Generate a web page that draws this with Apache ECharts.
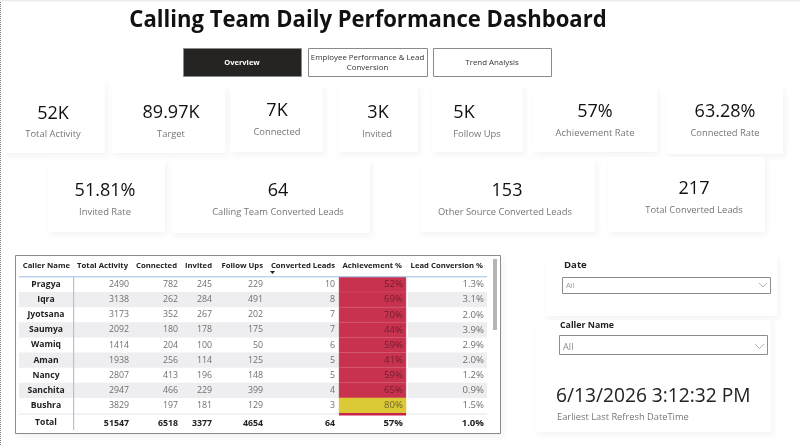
<!DOCTYPE html>
<html>
<head>
<meta charset="utf-8">
<title>Calling Team Daily Performance Dashboard</title>
<script src="https://cdn.jsdelivr.net/npm/echarts@6/dist/echarts.min.js"></script>
<style>
html, body { margin: 0; padding: 0; background: #fff; }
#myChart { width: 800px; height: 445px; }
</style>
</head>
<body>
<div id="myChart"></div>
<script>
var titleText = 'Calling Team Daily Performance Dashboard';
var navLabels = ['Overview', 'Employee Performance & Lead\nConversion', 'Trend Analysis'];

var kpiValues = ['52K', '89.97K', '7K', '3K', '5K', '57%', '63.28%', '51.81%', '64', '153', '217'];
var kpiLabels = ['Total Activity', 'Target', 'Connected', 'Invited', 'Follow Ups', 'Achievement Rate', 'Connected Rate',
    'Invited Rate', 'Calling Team Converted Leads', 'Other Source Converted Leads', 'Total Converted Leads'];

var tableHeaders = ['Caller Name', 'Total Activity', 'Connected', 'Invited', 'Follow Ups', 'Converted Leads', 'Achievement %', 'Lead Conversion %'];
var callers = ['Pragya', 'Iqra', 'Jyotsana', 'Saumya', 'Wamiq', 'Aman', 'Nancy', 'Sanchita', 'Bushra'];
var totalActivity = [2490, 3138, 3173, 2092, 1414, 1938, 2807, 2947, 3829];
var connected = [782, 262, 352, 180, 204, 256, 413, 466, 197];
var invited = [245, 284, 267, 178, 100, 114, 196, 229, 181];
var followUps = [229, 491, 202, 175, 50, 125, 148, 399, 129];
var convertedLeads = [10, 8, 7, 7, 6, 5, 5, 4, 3];
var achievement = [52, 69, 70, 44, 59, 41, 59, 65, 80];
var leadConversion = [1.3, 3.1, 2.0, 3.9, 2.9, 2.0, 1.2, 0.9, 1.5];
var totalRow = ['Total', '51547', '6518', '3377', '4654', '64', '57%', '1.0%'];

var dateSlicerTitle = 'Date';
var callerSlicerTitle = 'Caller Name';
var slicerValue = 'All';
var refreshValue = '6/13/2026 3:12:32 PM';
var refreshLabel = 'Earliest Last Refresh DateTime';

var FONT = '"Open Sans", "Noto Sans", sans-serif';

// 卡片位置: x, y, w, h, 数值中心x, 数值y, 标签中心x, 标签y
var kpiBoxes = [
    [4, 82, 101, 71, 53, 114, 53, 134],
    [112, 85, 113, 68, 171, 113, 171, 134],
    [230, 85, 93, 67, 277, 111, 277, 132],
    [338, 85, 80, 67, 378, 113, 377, 134],
    [432, 85, 91, 67, 464, 113, 477, 134],
    [533, 88, 124, 64, 595, 112, 595, 133],
    [667, 85, 116, 69, 725, 112, 725, 133],
    [48, 160, 117, 72, 105, 191, 105, 212],
    [172, 160, 198, 73, 278, 191, 278, 212],
    [420, 160, 175, 72, 507, 191, 505, 212],
    [608, 157, 157, 75, 694, 189, 694, 210]
];
var navBoxes = [[183, 48, 118, 28], [308, 48, 119, 28], [433, 48, 118, 28]];
// 每列右边缘
var colRight = [0, 129, 178, 212, 263, 335, 403, 484];
var headerRight = [70, 128, 177, 212, 263, 335, 402, 483];

function text(x, y, str, size, color, align, weight, z) {
    return {
        type: 'text', x: x, y: y, z: z || 5, silent: true,
        style: {
            text: str, fontSize: size, fill: color, align: align || 'left', verticalAlign: 'middle',
            fontWeight: weight || 'normal', fontFamily: FONT, lineHeight: size + 2.5
        }
    };
}
function rect(x, y, w, h, fill, stroke, lineWidth, z, shadow) {
    var s = { fill: fill, stroke: stroke || null, lineWidth: lineWidth || 0 };
    if (shadow) {
        s.shadowBlur = 6;
        s.shadowColor = 'rgba(40,30,60,0.055)';
        s.shadowOffsetX = 2;
        s.shadowOffsetY = 3;
    }
    return { type: 'rect', z: z || 1, silent: true, shape: { x: x, y: y, width: w, height: h }, style: s };
}
function line(x1, y1, x2, y2, color, w, z, dash) {
    return {
        type: 'line', z: z || 3, silent: true, shape: { x1: x1, y1: y1, x2: x2, y2: y2 },
        style: { stroke: color, lineWidth: w || 1, lineDash: dash || null }
    };
}
function chevron(x, y, w, h) {
    return {
        type: 'polyline', z: 5, silent: true,
        shape: { points: [[x, y], [x + w / 2, y + h], [x + w, y]] },
        style: { stroke: '#a0a0a0', lineWidth: 0.8, fill: null }
    };
}

var elements = [];

// 页面边缘
elements.push(line(0.5, 0, 0.5, 445, '#777', 1, 6, [1, 1]));
elements.push(rect(0, 0, 800, 1.5, '#ececec', null, 0, 6));

var titleEl = text(368, 20, titleText, 24, '#111', 'center', 'bold');
titleEl.scaleX = 0.92;
elements.push(titleEl);

// 导航按钮
for (var n = 0; n < navLabels.length; n++) {
    var b = navBoxes[n];
    var active = n === 0;
    elements.push(rect(b[0] + 0.5, b[1] + 0.5, b[2], b[3], active ? '#252423' : '#fff', '#8a8a8a', 1, 2));
    elements.push(text(b[0] + b[2] / 2, b[1] + b[3] / 2 + 1, navLabels[n], active ? 7.5 : 7.9, active ? '#fff' : '#333', 'center', active ? 'bold' : 'normal'));
}

// KPI 卡片
for (var k = 0; k < kpiValues.length; k++) {
    var c = kpiBoxes[k];
    elements.push(rect(c[0], c[1], c[2], c[3], '#fff', null, 0, 1, true));
    elements.push(text(c[4], c[5], kpiValues[k], 18, '#111', 'center'));
    elements.push(text(c[6], c[7], kpiLabels[k], 9.4, '#777', 'center'));
}

// 表格外框与表头
elements.push(rect(15.5, 255.5, 485, 178, '#fff', '#8c8c8c', 1, 1, true));
for (var h = 0; h < tableHeaders.length; h++) {
    elements.push(text(headerRight[h], 265.5, tableHeaders[h], 7.7, '#222', 'right', 'bold'));
    elements.push(text(h === 0 ? 46 : colRight[h], 423, totalRow[h], h === 0 ? 8.6 : h >= 6 ? 9.6 : 8.8, '#222', h === 0 ? 'center' : 'right', 'bold'));
}
elements.push({
    type: 'polygon', z: 5, silent: true,
    shape: { points: [[270, 271], [275, 271], [272.5, 274]] }, style: { fill: '#222' }
});
elements.push(line(19, 276.8, 487, 276.8, '#9dbde6', 1, 4));
elements.push(rect(73, 277, 1.2, 153, '#a9c4ea', null, 0, 4));
elements.push(rect(339, 413, 67, 2.5, '#c8234a', null, 0, 3));
elements.push(rect(19, 413, 320, 2, '#f2f2f4', null, 0, 2));
elements.push(rect(406, 413, 81, 2, '#f2f2f4', null, 0, 2));
elements.push(rect(493, 259, 4, 71, '#b5b5b5', null, 0, 4));

// 切片器
elements.push(rect(545, 256, 232, 60, '#fff', null, 0, 1, true));
elements.push(rect(535, 320, 236, 112, '#fff', null, 0, 1, true));
elements.push(text(564, 265, dateSlicerTitle, 9.6, '#222', 'left', 'bold'));
elements.push(rect(562.5, 277.5, 208, 16, '#fff', '#8c8c8c', 1, 3));
elements.push(text(566, 286, slicerValue, 7.6, '#9a9a9a'));
elements.push(chevron(759, 283, 8, 4));
elements.push(text(560, 325.5, callerSlicerTitle, 8.8, '#222', 'left', 'bold'));
elements.push(rect(559.5, 335.5, 208, 19, '#fff', '#8c8c8c', 1, 3));
elements.push(text(563, 347, slicerValue, 9.2, '#8a8a8a'));
elements.push(chevron(755, 344, 9, 4.5));
elements.push(text(556, 397, refreshValue, 19.2, '#222'));
elements.push(text(557, 417, refreshLabel, 9.3, '#777'));

// 表格主体: 每行一个数据项
var rowData = [];
for (var r = 0; r < callers.length; r++) {
    rowData.push([callers[r], totalActivity[r], connected[r], invited[r], followUps[r], convertedLeads[r], achievement[r], leadConversion[r]]);
}

function renderRow(params, api) {
    var i = params.dataIndex;
    var row = rowData[i];
    var yc = api.coord([0, i])[1];
    var bh = api.size([0, 1])[1];
    var top = yc - bh / 2;
    var xs = function (v) { return api.coord([v, i])[0]; };
    var children = [];
    if (i % 2 === 1) {
        children.push({ type: 'rect', shape: { x: xs(19), y: top, width: xs(339) - xs(19), height: bh }, style: { fill: '#eeeef0' } });
        children.push({ type: 'rect', shape: { x: xs(408), y: top, width: xs(487) - xs(408), height: bh }, style: { fill: '#eeeef0' } });
    }
    // 达成率: 低于 80% 红色, 否则黄色
    children.push({
        type: 'rect',
        shape: { x: xs(339), y: top, width: xs(406) - xs(339), height: bh },
        style: { fill: row[6] < 80 ? '#c9324f' : '#dcc936', stroke: row[6] < 80 ? '#d2596f' : '#dcc936', lineWidth: 0.4 }
    });
    children.push({
        type: 'text', x: xs(46), y: yc,
        style: { text: row[0], fontSize: 8.6, fontWeight: 'bold', fontFamily: FONT, fill: '#222', align: 'center', verticalAlign: 'middle' }
    });
    for (var j = 1; j < row.length; j++) {
        var str = j === 6 ? row[j] + '%' : j === 7 ? row[j].toFixed(1) + '%' : String(row[j]);
        children.push({
            type: 'text', x: xs(colRight[j]), y: yc,
            style: {
                text: str, fontSize: j >= 6 ? 9.6 : 8.8, fontFamily: FONT, align: 'right', verticalAlign: 'middle',
                fill: j === 6 ? (row[j] < 80 ? '#6f2033' : '#6d6330') : '#707070'
            }
        });
    }
    return { type: 'group', children: children };
}

var myChart = echarts.init(document.getElementById('myChart'), null, { renderer: 'canvas' });

var option = {
    animation: false,
    backgroundColor: '#fff',
    grid: { left: 0, right: 0, top: 277, height: 136 },
    xAxis: { type: 'value', min: 0, max: 800, show: false },
    yAxis: { type: 'category', data: callers, inverse: true, show: false },
    graphic: { elements: elements },
    series: [{
        type: 'custom',
        z: 2,
        silent: true,
        coordinateSystem: 'cartesian2d',
        encode: { x: 1, y: 0 },
        data: callers.map(function (name, idx) { return [idx, totalActivity[idx]]; }),
        renderItem: renderRow
    }]
};

myChart.setOption(option);
</script>
</body>
</html>
